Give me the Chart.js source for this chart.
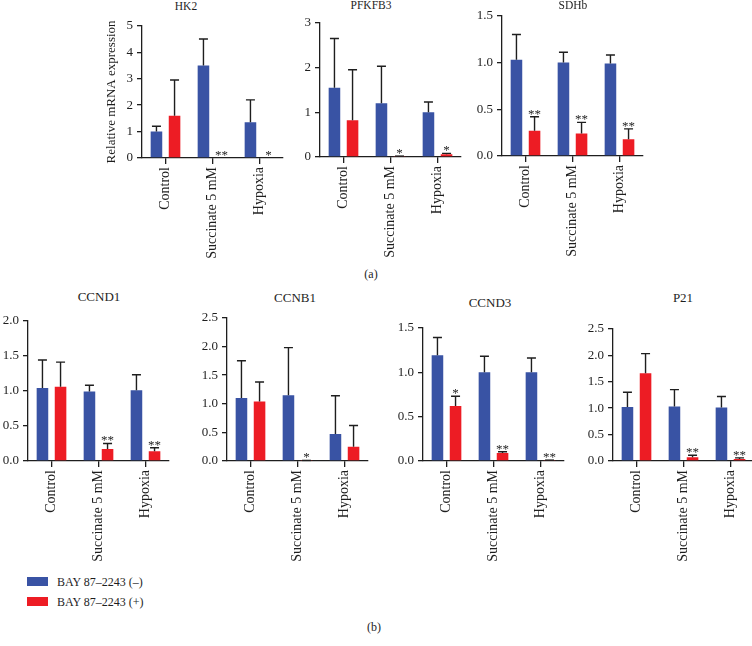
<!DOCTYPE html>
<html>
<head>
<meta charset="utf-8">
<script src="https://cdn.jsdelivr.net/npm/chart.js@4.4.1/dist/chart.umd.min.js"></script>
<style>
  body { margin: 0; width: 752px; height: 646px; position: relative; overflow: hidden; background: #fff;
         font-family: "Liberation Serif", "DejaVu Serif", serif; color: #1e1e1e; }
  canvas { position: absolute; }
  .txt { position: absolute; transform: translate(-50%, -50%); white-space: nowrap; }
  .key { position: absolute; left: 27px; width: 21px; height: 9px; }
  .keytxt { position: absolute; left: 57px; font-size: 12px; transform: translateY(-50%); white-space: nowrap; }
</style>
</head>
<body>
<script>
// categories and series
const categories = ['Control', 'Succinate 5 mM', 'Hypoxia'];
const seriesNames = ['BAY 87\u20132243 (\u2013)', 'BAY 87\u20132243 (+)'];

// means, upward SD (null = no error bar), significance stars
const hk2Minus     = [1.0, 3.5, 1.35];
const hk2MinusSd   = [0.2, 1.0, 0.85];
const hk2Plus      = [1.6, 0, 0];
const hk2PlusSd    = [1.35, null, null];
const hk2Stars     = ['', '**', '*'];
const hk2Ticks     = ['0', '1', '2', '3', '4', '5'];

const pfkfb3Minus   = [1.55, 1.2, 1.0];
const pfkfb3MinusSd = [1.1, 0.83, 0.23];
const pfkfb3Plus    = [0.82, 0.02, 0.06];
const pfkfb3PlusSd  = [1.13, 0, 0.02];
const pfkfb3Stars   = ['', '*', '*'];
const pfkfb3Ticks   = ['0', '1', '2', '3'];

const sdhbMinus   = [1.03, 1.0, 0.99];
const sdhbMinusSd = [0.27, 0.11, 0.09];
const sdhbPlus    = [0.27, 0.24, 0.18];
const sdhbPlusSd  = [0.15, 0.12, 0.11];
const sdhbStars   = ['**', '**', '**'];
const sdhbTicks   = ['0.0', '0.5', '1.0', '1.5'];

const ccnd1Minus   = [1.04, 0.99, 1.01];
const ccnd1MinusSd = [0.40, 0.09, 0.22];
const ccnd1Plus    = [1.06, 0.17, 0.14];
const ccnd1PlusSd  = [0.35, 0.08, 0.05];
const ccnd1Stars   = ['', '**', '**'];
const ccnd1Ticks   = ['0.0', '0.5', '1.0', '1.5', '2.0'];

const ccnb1Minus   = [1.1, 1.15, 0.47];
const ccnb1MinusSd = [0.65, 0.83, 0.67];
const ccnb1Plus    = [1.04, 0.01, 0.25];
const ccnb1PlusSd  = [0.34, 0, 0.37];
const ccnb1Stars   = ['', '*', ''];
const ccnb1Ticks   = ['0.0', '0.5', '1.0', '1.5', '2.0', '2.5'];

const ccnd3Minus   = [1.19, 1.0, 1.0];
const ccnd3MinusSd = [0.2, 0.18, 0.16];
const ccnd3Plus    = [0.62, 0.09, 0.01];
const ccnd3PlusSd  = [0.11, 0.015, 0];
const ccnd3Stars   = ['*', '**', '**'];
const ccnd3Ticks   = ['0.0', '0.5', '1.0', '1.5'];

const p21Minus   = [1.02, 1.03, 1.01];
const p21MinusSd = [0.28, 0.32, 0.21];
const p21Plus    = [1.66, 0.07, 0.04];
const p21PlusSd  = [0.37, 0.04, 0.02];
const p21Stars   = ['', '**', '**'];
const p21Ticks   = ['0.0', '0.5', '1.0', '1.5', '2.0', '2.5'];

const BLUE = '#3953a4';
const RED  = '#ed1c24';
const INK  = '#1e1e1e';
const FONT = '"Liberation Serif", "DejaVu Serif", serif';

// where each panel sits on the page
const panels = [
  { name: 'HK2',    minus: hk2Minus,    minusSd: hk2MinusSd,    plus: hk2Plus,    plusSd: hk2PlusSd,    stars: hk2Stars,    ticks: hk2Ticks,
    axisX: 142, top: 24,  bottom: 158, titleX: 186, titleY: 6,   titleSize: 11.5, yTitle: true },
  { name: 'PFKFB3', minus: pfkfb3Minus, minusSd: pfkfb3MinusSd, plus: pfkfb3Plus, plusSd: pfkfb3PlusSd, stars: pfkfb3Stars, ticks: pfkfb3Ticks,
    axisX: 320, top: 21,  bottom: 157, titleX: 371, titleY: 5,   titleSize: 11.5 },
  { name: 'SDHb',   minus: sdhbMinus,   minusSd: sdhbMinusSd,   plus: sdhbPlus,   plusSd: sdhbPlusSd,   stars: sdhbStars,   ticks: sdhbTicks,
    axisX: 502, top: 14,  bottom: 156, titleX: 573, titleY: 5,   titleSize: 11.5 },
  { name: 'CCND1',  minus: ccnd1Minus,  minusSd: ccnd1MinusSd,  plus: ccnd1Plus,  plusSd: ccnd1PlusSd,  stars: ccnd1Stars,  ticks: ccnd1Ticks,
    axisX: 28,  top: 319, bottom: 461, titleX: 99,  titleY: 297, titleSize: 13 },
  { name: 'CCNB1',  minus: ccnb1Minus,  minusSd: ccnb1MinusSd,  plus: ccnb1Plus,  plusSd: ccnb1PlusSd,  stars: ccnb1Stars,  ticks: ccnb1Ticks,
    axisX: 227, top: 316, bottom: 461, titleX: 295, titleY: 298, titleSize: 13 },
  { name: 'CCND3',  minus: ccnd3Minus,  minusSd: ccnd3MinusSd,  plus: ccnd3Plus,  plusSd: ccnd3PlusSd,  stars: ccnd3Stars,  ticks: ccnd3Ticks,
    axisX: 423, top: 326, bottom: 461, titleX: 490, titleY: 303, titleSize: 13 },
  { name: 'P21',    minus: p21Minus,    minusSd: p21MinusSd,    plus: p21Plus,    plusSd: p21PlusSd,    stars: p21Stars,    ticks: p21Ticks,
    axisX: 613, top: 327, bottom: 461, titleX: 683, titleY: 298, titleSize: 13 },
];

const PLOT_W = 141;
const PAD_TOP = 10;
const PAD_RIGHT = 6;
const X_H = 100;

// error bars + asterisks drawn on top of the bars
const errorBars = {
  id: 'errorBars',
  afterDatasetsDraw(chart) {
    const ctx = chart.ctx;
    const yScale = chart.scales.y;
    chart.data.datasets.forEach((ds, i) => {
      chart.getDatasetMeta(i).data.forEach((bar, j) => {
        const sd = ds.errors[j];
        let top = bar.y;
        ctx.save();
        ctx.strokeStyle = INK;
        ctx.lineWidth = 1.4;
        if (sd != null) {
          top = yScale.getPixelForValue(ds.data[j] + sd);
          ctx.beginPath();
          ctx.moveTo(bar.x, bar.y);
          ctx.lineTo(bar.x, top);
          ctx.moveTo(bar.x - 4.5, top);
          ctx.lineTo(bar.x + 4.5, top);
          ctx.stroke();
        }
        const star = ds.stars ? ds.stars[j] : '';
        if (star) {
          ctx.fillStyle = INK;
          ctx.font = '13px ' + FONT;
          ctx.textAlign = 'center';
          ctx.textBaseline = 'alphabetic';
          ctx.fillText(star, bar.x, top + 1);
        }
        ctx.restore();
      });
    });
  }
};

function addText(text, x, y, size) {
  const d = document.createElement('div');
  d.className = 'txt';
  d.textContent = text;
  d.style.left = x + 'px';
  d.style.top = y + 'px';
  d.style.fontSize = size + 'px';
  document.body.appendChild(d);
}

panels.forEach(p => {
  const yW = p.yTitle ? 42 : 30;
  const w = yW + PLOT_W + PAD_RIGHT;
  const h = PAD_TOP + (p.bottom - p.top) + X_H;
  const canvas = document.createElement('canvas');
  canvas.width = w; canvas.height = h;
  canvas.style.left = (p.axisX - yW) + 'px';
  canvas.style.top = (p.top - PAD_TOP) + 'px';
  canvas.style.width = w + 'px'; canvas.style.height = h + 'px';
  document.body.appendChild(canvas);

  const tickVals = p.ticks.map(Number);

  new Chart(canvas, {
    type: 'bar',
    data: {
      labels: categories,
      datasets: [
        { label: seriesNames[0], data: p.minus, errors: p.minusSd, backgroundColor: BLUE,
          categoryPercentage: 0.77, barPercentage: 0.64 },
        { label: seriesNames[1], data: p.plus, errors: p.plusSd, stars: p.stars, backgroundColor: RED,
          categoryPercentage: 0.77, barPercentage: 0.64 }
      ]
    },
    options: {
      responsive: false,
      animation: false,
      layout: { padding: { top: PAD_TOP, right: PAD_RIGHT, left: 0, bottom: 0 } },
      plugins: { legend: { display: false }, tooltip: { enabled: false } },
      scales: {
        x: {
          grid: { display: true, drawOnChartArea: false, drawTicks: true, tickLength: 6, offset: false,
                  color: INK, lineWidth: 1.3 },
          border: { display: true, color: INK, width: 1.3 },
          ticks: { minRotation: 90, maxRotation: 90, autoSkip: false, padding: 3, color: INK,
                   font: { family: FONT, size: 14 } },
          afterFit: s => { s.height = X_H; }
        },
        y: {
          min: 0,
          max: tickVals[tickVals.length - 1],
          afterBuildTicks: s => { s.ticks = tickVals.map(v => ({ value: v })); },
          grid: { display: true, drawOnChartArea: false, drawTicks: true, tickLength: 5,
                  color: INK, lineWidth: 1.3 },
          border: { display: true, color: INK, width: 1.3 },
          ticks: { padding: 4, color: INK, font: { family: FONT, size: 13 },
                   callback: (v, i) => p.ticks[i] },
          title: { display: !!p.yTitle, text: 'Relative mRNA expression', color: INK,
                   font: { family: FONT, size: 13 }, padding: { top: 4, bottom: 0 } },
          afterFit: s => { s.width = yW; }
        }
      }
    },
    plugins: [errorBars]
  });

  addText(p.name, p.titleX, p.titleY, p.titleSize);
});

addText('(a)', 371, 274, 12);
addText('(b)', 374, 627, 12);

// legend
[BLUE, RED].forEach((c, i) => {
  const sw = document.createElement('div');
  sw.className = 'key';
  sw.style.top = (577 + i * 20) + 'px';
  sw.style.background = c;
  document.body.appendChild(sw);
  const t = document.createElement('div');
  t.className = 'keytxt';
  t.style.top = (582 + i * 20) + 'px';
  t.textContent = seriesNames[i];
  document.body.appendChild(t);
});
</script>
</body>
</html>
